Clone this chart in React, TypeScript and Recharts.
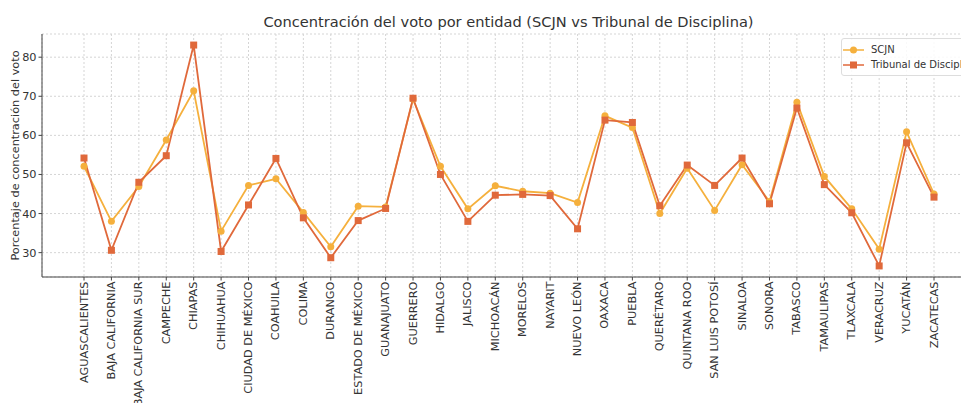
import React from 'react';
import { LineChart, Line, XAxis, YAxis, CartesianGrid } from 'recharts';

const entidades = [
  'AGUASCALIENTES', 'BAJA CALIFORNIA', 'BAJA CALIFORNIA SUR', 'CAMPECHE', 'CHIAPAS', 'CHIHUAHUA',
  'CIUDAD DE MÉXICO', 'COAHUILA', 'COLIMA', 'DURANGO', 'ESTADO DE MÉXICO', 'GUANAJUATO',
  'GUERRERO', 'HIDALGO', 'JALISCO', 'MICHOACÁN', 'MORELOS', 'NAYARIT', 'NUEVO LEÓN', 'OAXACA',
  'PUEBLA', 'QUERÉTARO', 'QUINTANA ROO', 'SAN LUIS POTOSÍ', 'SINALOA', 'SONORA', 'TABASCO',
  'TAMAULIPAS', 'TLAXCALA', 'VERACRUZ', 'YUCATÁN', 'ZACATECAS',
];

const scjn = [
  52.1, 38.0, 46.9, 58.8, 71.4, 35.5, 47.2, 48.9, 40.3, 31.5, 41.9, 41.7, 69.3, 52.1, 41.2, 47.1,
  45.7, 45.2, 42.8, 65.0, 62.0, 40.0, 51.6, 40.8, 52.5, 43.1, 68.5, 49.5, 41.2, 30.9, 60.9, 45.0,
];

const tribunal = [
  54.2, 30.6, 48.0, 54.8, 83.1, 30.3, 42.2, 54.1, 38.9, 28.7, 38.2, 41.3, 69.5, 50.0, 38.0, 44.7,
  44.9, 44.6, 36.1, 63.9, 63.3, 42.0, 52.4, 47.2, 54.2, 42.5, 67.0, 47.4, 40.2, 26.6, 58.1, 44.2,
];

const yTicks = [30, 40, 50, 60, 70, 80];

const SCJN_COLOR = '#f5b03d';
const TRIB_COLOR = '#e0693b';
const FONT = '"DejaVu Sans", sans-serif';

const data = entidades.map((e, i) => ({ entidad: e, scjn: scjn[i], tribunal: tribunal[i] }));

const SquareDot = (props: any) => {
  const { cx, cy, index } = props;
  if (cx == null || cy == null) return null;
  return <rect key={index} x={cx - 3.5} y={cy - 3.5} width={7} height={7} fill={TRIB_COLOR} />;
};

const CircleDot = (props: any) => {
  const { cx, cy, index } = props;
  if (cx == null || cy == null) return null;
  return <circle key={index} cx={cx} cy={cy} r={3.5} fill={SCJN_COLOR} />;
};

// rotated category labels, text ends right under the tick
const XTick = (props: any) => {
  const { x, y, payload } = props;
  const ty = y - 1;
  return (
    <text
      x={x}
      y={ty}
      transform={`rotate(-90, ${x}, ${ty})`}
      textAnchor="end"
      dominantBaseline="central"
      fontSize={11.3}
      fontFamily={FONT}
      fill="#333"
    >
      {payload.value}
    </text>
  );
};

const legendItems = [
  { name: 'SCJN', color: SCJN_COLOR, shape: 'circle' },
  { name: 'Tribunal de Disciplina', color: TRIB_COLOR, shape: 'square' },
];

export default function App() {
  return (
    <div
      style={{
        position: 'fixed',
        left: 0,
        top: 0,
        width: 961,
        height: 403,
        overflow: 'hidden',
        background: '#fff',
      }}
    >
      <div
        style={{
          position: 'absolute',
          top: 13,
          left: 0,
          width: 1017,
          textAlign: 'center',
          fontFamily: FONT,
          fontSize: 14.6,
          color: '#333',
        }}
      >
        Concentración del voto por entidad (SCJN vs Tribunal de Disciplina)
      </div>
      <LineChart
        width={976}
        height={403}
        data={data}
        margin={{ top: 34, right: 0, bottom: 0, left: 0 }}
      >
        <CartesianGrid stroke="#d5d5d5" strokeDasharray="2 2" />
        <XAxis
          dataKey="entidad"
          interval={0}
          height={126}
          padding={{ left: 42, right: 42 }}
          tick={<XTick />}
          tickSize={3.5}
          tickLine={{ stroke: '#444' }}
          axisLine={{ stroke: '#444' }}
        />
        <YAxis
          width={42}
          domain={[23.77, 85.93]}
          ticks={yTicks}
          tickSize={3.5}
          tickLine={{ stroke: '#444' }}
          axisLine={{ stroke: '#444' }}
          tick={{ fontSize: 11.3, fontFamily: FONT, fill: '#333' }}
          label={{
            value: 'Porcentaje de concentración del voto',
            angle: -90,
            position: 'insideLeft',
            dx: 10,
            dy: 0,
            style: { textAnchor: 'middle', fontSize: 11.3, fontFamily: FONT, fill: '#333' },
          }}
        />
        <Line
          dataKey="scjn"
          name="SCJN"
          stroke={SCJN_COLOR}
          strokeWidth={1.8}
          dot={<CircleDot />}
          activeDot={false}
          isAnimationActive={false}
        />
        <Line
          dataKey="tribunal"
          name="Tribunal de Disciplina"
          stroke={TRIB_COLOR}
          strokeWidth={1.8}
          dot={<SquareDot />}
          activeDot={false}
          isAnimationActive={false}
        />
      </LineChart>
      <div
        style={{
          position: 'absolute',
          left: 841,
          top: 38,
          border: '1px solid #ddd',
          borderRadius: 3,
          background: 'rgba(255,255,255,0.85)',
          padding: '3px 6px 3px 1px',
          fontFamily: FONT,
          fontSize: 10,
          color: '#333',
          lineHeight: '15px',
        }}
      >
        {legendItems.map((item) => (
          <div key={item.name} style={{ display: 'flex', alignItems: 'center', whiteSpace: 'nowrap' }}>
            <svg width={21} height={10} style={{ marginRight: 7 }}>
              <line x1={0} y1={5} x2={21} y2={5} stroke={item.color} strokeWidth={1.5} />
              {item.shape === 'circle' ? (
                <circle cx={10.5} cy={5} r={3.5} fill={item.color} />
              ) : (
                <rect x={7} y={1.5} width={7} height={7} fill={item.color} />
              )}
            </svg>
            {item.name}
          </div>
        ))}
      </div>
    </div>
  );
}
